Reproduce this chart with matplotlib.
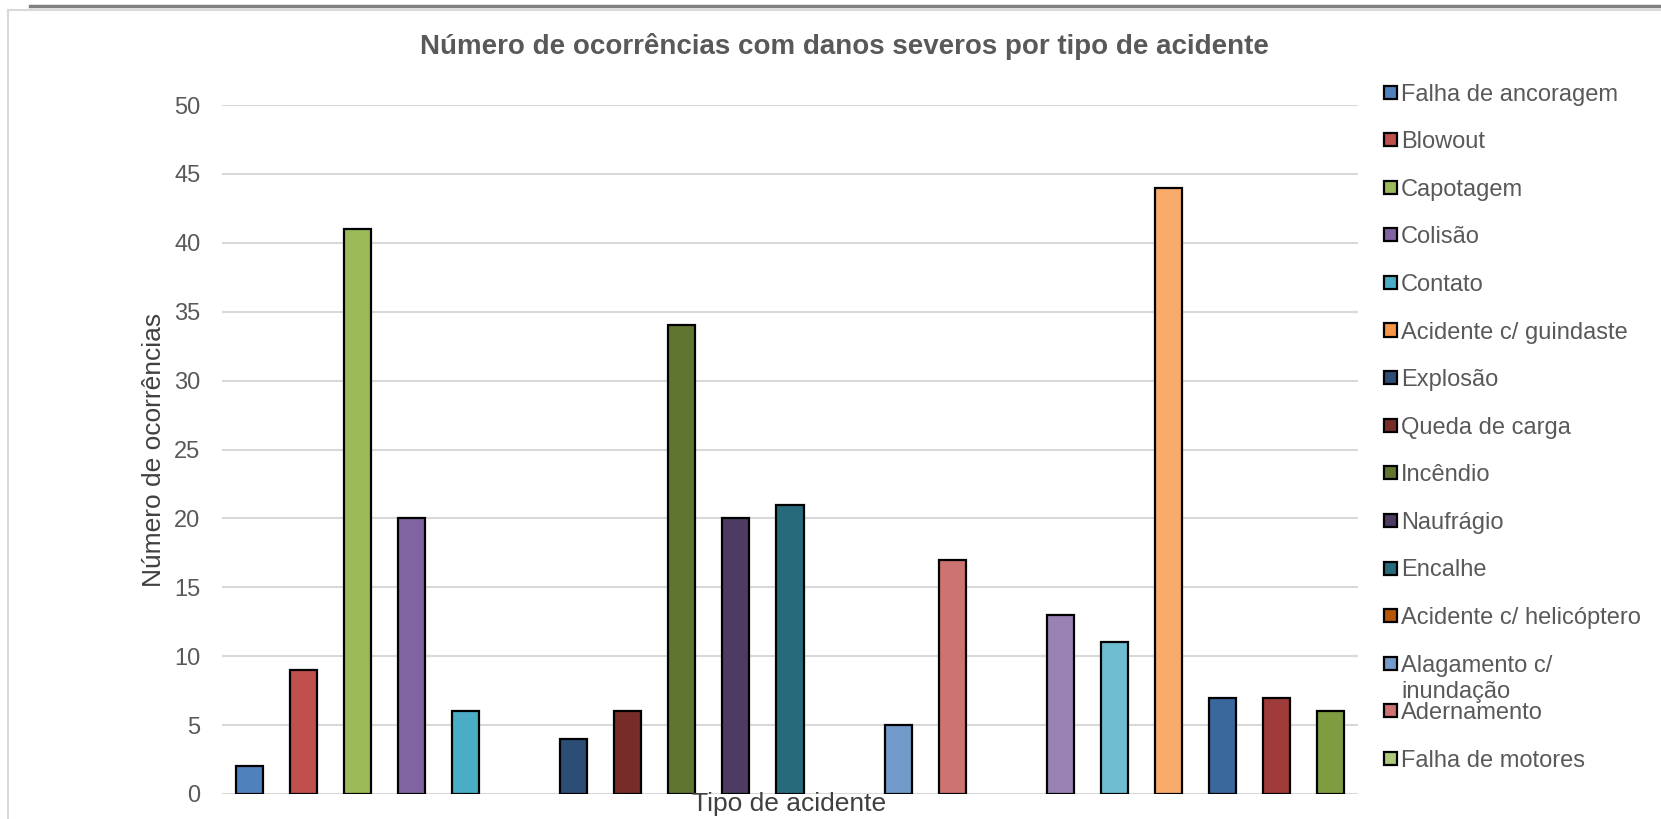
import matplotlib.pyplot as plt
from matplotlib.patches import Rectangle
from matplotlib.lines import Line2D
import numpy as np

plt.rcParams['font.family'] = ['Liberation Sans', 'DejaVu Sans']

# accident types, in chart order
tipos = [
    'Falha de ancoragem', 'Blowout', 'Capotagem', 'Colisão', 'Contato',
    'Acidente c/ guindaste', 'Explosão', 'Queda de carga', 'Incêndio',
    'Naufrágio', 'Encalhe', 'Acidente c/ helicóptero',
    'Alagamento c/\ninundação', 'Adernamento', 'Falha de motores',
    'Perda de estabilidade', 'Falha estrutural', 'Queda de homem ao mar',
    'Vazamento', 'Falha de equipamento', 'Outros',
]
ocorrencias = [2, 9, 41, 20, 6, 0, 4, 6, 34, 20, 21, 0, 5, 17, 0,
               13, 11, 44, 7, 7, 6]
cores = [
    '#4F81BD', '#C0504D', '#9BBB59', '#8064A2', '#4BACC6', '#F79646',
    '#2C4D75', '#772C2A', '#5F7530', '#4D3B62', '#276A7C', '#B65708',
    '#729ACA', '#CD7371', '#AFC97A', '#9983B5', '#6FBDD1', '#F9AB6B',
    '#3A679C', '#9F3B38', '#7E9C40',
]
yticks = [0, 5, 10, 15, 20, 25, 30, 35, 40, 45, 50]

W, H = 1661, 819
txt = '#595959'

fig = plt.figure(figsize=(W / 100, H / 100), dpi=100)
ax = fig.add_axes([222 / W, 1 - 794 / H, (1358 - 222) / W, (794 - 105) / H])

x = np.arange(len(tipos))
# no outline on empty categories
bordas = [1.6 if v > 0 else 0 for v in ocorrencias]
ax.bar(x, ocorrencias, width=0.5, color=cores, edgecolor='black',
       linewidth=bordas, zorder=3)

ax.set_xlim(-0.5, len(tipos) - 0.5)
ax.set_ylim(0, 50)
ax.set_yticks(yticks)
ax.set_xticks([])
ax.tick_params(axis='y', length=0, pad=15.5, labelsize=17, labelcolor=txt)
ax.grid(axis='y', color='#D9D9D9', linewidth=1.5, zorder=0)
for s in ax.spines.values():
    s.set_visible(False)

fig.text(154 / W, 1 - 450 / H, 'Número de ocorrências', fontsize=19,
         color='#404040', rotation=90, ha='center', va='center')
fig.text(789 / W, 1 - 804 / H, 'Tipo de acidente', fontsize=19,
         color='#404040', ha='center', va='center')
fig.text(844 / W, 1 - 47 / H,
         'Número de ocorrências com danos severos por tipo de acidente',
         fontsize=20, fontweight='bold', color=txt, ha='center', va='center')

# legend drawn by hand (only the first entries fit in the box)
y0, step = 92, 47.6
for i in range(15):
    yc = y0 + i * step
    fig.add_artist(Rectangle((1384 / W, 1 - (yc + 6.5) / H), 13 / W, 13 / H,
                             transform=fig.transFigure, facecolor=cores[i],
                             edgecolor='black', linewidth=1.6))
    for j, linha in enumerate(tipos[i].split('\n')):
        fig.text(1401 / W, 1 - (yc + 8.5 + 26 * j) / H, linha, fontsize=17,
                 color=txt, ha='left', va='baseline')

# chart frame
fig.add_artist(Line2D([8 / W, 8 / W], [0, 1 - 10 / H], color='#D9D9D9',
                      linewidth=1.5, transform=fig.transFigure))
fig.add_artist(Line2D([8 / W, 1], [1 - 10 / H, 1 - 10 / H], color='#D9D9D9',
                      linewidth=1.5, transform=fig.transFigure))
fig.add_artist(Line2D([30 / W, 1], [1 - 5.5 / H, 1 - 5.5 / H],
                      color='#808080', linewidth=2.5,
                      transform=fig.transFigure))

fig.savefig('out.png', dpi=100)
